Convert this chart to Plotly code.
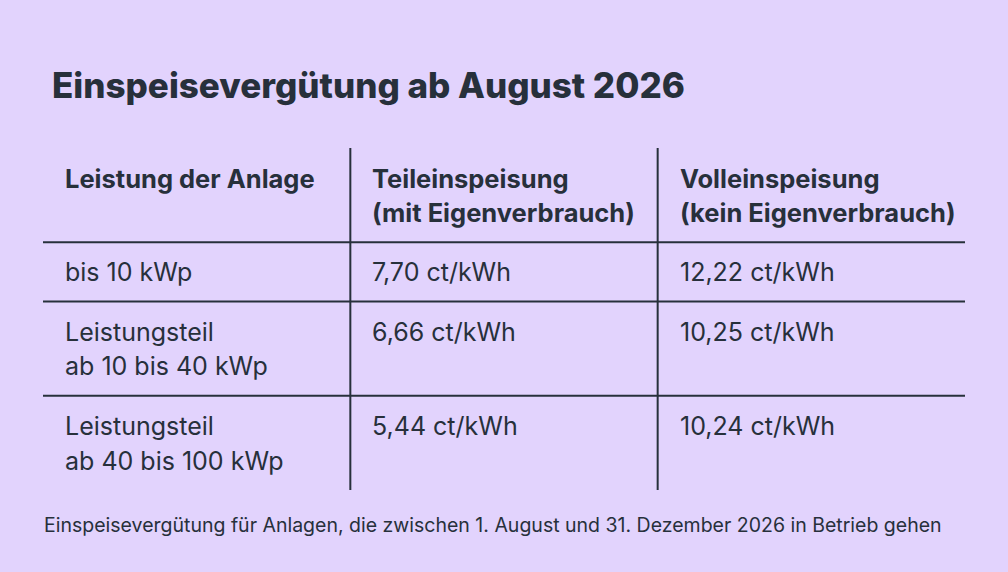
import plotly.graph_objects as go

# ── Data ──────────────────────────────────────────────────────────────────────

TITLE = "Einspeisevergütung ab August 2026"
FOOTNOTE = "Einspeisevergütung für Anlagen, die zwischen 1. August und 31. Dezember 2026 in Betrieb gehen"

HEADERS = ["Leistung der Anlage", "Teileinspeisung<br>(mit Eigenverbrauch)", "Volleinspeisung<br>(kein Eigenverbrauch)"]
ROW_LABELS = ["bis 10 kWp", "Leistungsteil<br>ab 10 bis 40 kWp", "Leistungsteil<br>ab 40 bis 100 kWp"]
TEILEINSPEISUNG = [7.70, 6.66, 5.44]   # ct/kWh
VOLLEINSPEISUNG = [12.22, 10.25, 10.24]  # ct/kWh

# ── Style ─────────────────────────────────────────────────────────────────────

BG = "#e2d3fd"
INK = "#27303b"
FONT = "Inter"
PAD = 0.7  # extra space per row, in line units


def fmt(v):
    return f"{v:.2f}".replace(".", ",") + " ct/kWh"


rows = [HEADERS] + [[lab, fmt(t), fmt(v)] for lab, t, v in zip(ROW_LABELS, TEILEINSPEISUNG, VOLLEINSPEISUNG)]

# row tops in line units (each row is as tall as its tallest cell + padding)
tops = [0.0]
for r in rows:
    n = max(c.count("<br>") + 1 for c in r)
    tops.append(tops[-1] + n + PAD)
total = tops[-1]

fig = go.Figure()
annotations = []
for i, r in enumerate(rows):
    for j, cell in enumerate(r):
        for k, line in enumerate(cell.split("<br>")):
            annotations.append(dict(
                x=j, y=tops[i] + 0.86 + k, xref="x", yref="y",
                text=line,
                showarrow=False, xanchor="left", yanchor="middle", xshift=20,
                font=dict(family=FONT, size=25.5 if i == 0 else 25, color=INK,
                          weight=700 if i == 0 else 400),
            ))

shapes = []
for j in (1, 2):  # column separators
    shapes.append(dict(type="line", x0=j, x1=j, y0=0, y1=total, xref="x", yref="y",
                       line=dict(color=INK, width=2)))
for t in tops[1:-1]:  # row separators
    shapes.append(dict(type="line", x0=0, x1=3, y0=t, y1=t, xref="x", yref="y",
                       line=dict(color=INK, width=2)))

annotations.append(dict(x=50 / 1008, y=1 - 85 / 572, xref="paper", yref="paper", text=TITLE,
                        showarrow=False, xanchor="left", yanchor="middle",
                        font=dict(family=FONT, size=35, color=INK, weight=800)))
annotations.append(dict(x=42 / 1008, y=1 - 525 / 572, xref="paper", yref="paper", text=FOOTNOTE,
                        showarrow=False, xanchor="left", yanchor="middle",
                        font=dict(family=FONT, size=19.5, color=INK)))

fig.update_layout(
    width=1008, height=572,
    margin=dict(l=0, r=0, t=0, b=0),
    paper_bgcolor=BG, plot_bgcolor=BG,
    xaxis=dict(range=[0, 3], domain=[43 / 1008, 965 / 1008], visible=False, fixedrange=True),
    yaxis=dict(range=[total, 0], domain=[1 - 490 / 572, 1 - 148 / 572], visible=False, fixedrange=True),
    shapes=shapes, annotations=annotations,
    showlegend=False, hovermode=False,
)

# drop the page's default 8px body margin so the figure fills the window
fig.write_html("out.html", config={"displayModeBar": False},
               post_script="document.body.style.margin='0';document.body.style.background='" + BG + "';")
